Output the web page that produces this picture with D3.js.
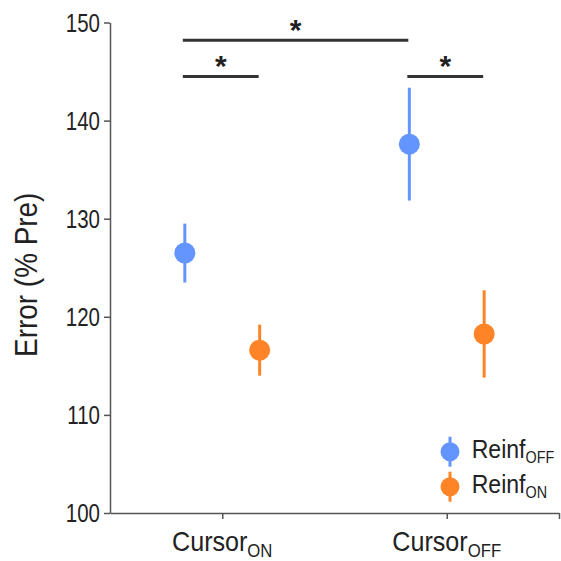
<!DOCTYPE html>
<html>
<head>
<meta charset="utf-8">
<script src="https://cdn.jsdelivr.net/npm/d3@7"></script>
<style>
  body { margin: 0; background: #fff; }
  svg text { font-family: "Liberation Sans", Arial, sans-serif; fill: #222; }
</style>
</head>
<body>
<svg id="chart" width="561" height="561"></svg>
<script>
// data
const cursorConds = ["ON", "OFF"];          // Cursor subscripts (x categories)
const reinfConds = ["OFF", "ON"];           // Reinf subscripts (series)
const reinfOffMean = [126.5, 137.6];
const reinfOffErr = [3.0, 5.75];
const reinfOnMean = [116.6, 118.25];
const reinfOnErr = [2.6, 4.45];
const yTicks = [100, 110, 120, 130, 140, 150];
const colors = ["#6495ff", "#ff8427"];
// significance bars: [category, series] at each end, y level in % Pre
const sigFrom = [[0, 0], [0, 0], [1, 0]];
const sigTo = [[0, 1], [1, 0], [1, 1]];
const sigLevel = [144.5, 148.2, 144.5];

const svg = d3.select("#chart");
const mLeft = 110, mRight = 559, mTop = 22.5, mBottom = 513;

const x = d3.scaleLinear().domain([0.5, 2.5]).range([mLeft, mRight]);
const y = d3.scaleLinear().domain([100, 150]).range([mBottom, mTop]);
const offset = [-1 / 6, 1 / 6];
const xPos = (c, s) => x(c + 1 + offset[s]);

const means = [reinfOffMean, reinfOnMean];
const errs = [reinfOffErr, reinfOnErr];

// axes
const yAxis = svg.append("g")
  .attr("transform", `translate(${mLeft},0)`)
  .call(d3.axisLeft(y).tickValues(yTicks).tickSize(6).tickSizeOuter(0));
const xAxis = svg.append("g")
  .attr("transform", `translate(0,${mBottom})`)
  .call(d3.axisBottom(x).tickValues([1, 2, 2.5]).tickSize(6).tickSizeOuter(0).tickFormat(""));

[yAxis, xAxis].forEach(g => {
  g.select(".domain").attr("stroke", "#555").attr("stroke-width", 1.5);
  g.selectAll(".tick line").attr("stroke", "#555").attr("stroke-width", 1.5);
});
yAxis.attr("font-family", null).attr("font-size", null);
// narrow-looking tick labels: squeeze horizontally
yAxis.selectAll(".tick text")
  .attr("font-size", 25.6).style("fill", "#222")
  .attr("x", 0).attr("dy", "0.35em")
  .attr("transform", "translate(-10,0) scale(0.8,1)");

// category labels with subscripts
cursorConds.forEach((c, i) => {
  const t = svg.append("text")
    .attr("transform", `translate(${x(i + 1)},551) scale(0.93,1)`)
    .attr("text-anchor", "middle")
    .attr("font-size", 27);
  t.append("tspan").text("Cursor");
  t.append("tspan").attr("font-size", 18).attr("dy", 5.5).text(c);
});

// y label
svg.append("text")
  .attr("transform", `translate(37,${(mTop + mBottom) / 2 + 7}) rotate(-90) scale(0.9,1)`)
  .attr("text-anchor", "middle")
  .attr("font-size", 31)
  .text("Error (% Pre)");

// error bars and markers
reinfConds.forEach((s, si) => {
  const g = svg.append("g");
  g.selectAll("line").data(means[si]).join("line")
    .attr("x1", (d, ci) => xPos(ci, si)).attr("x2", (d, ci) => xPos(ci, si))
    .attr("y1", (d, ci) => y(d - errs[si][ci])).attr("y2", (d, ci) => y(d + errs[si][ci]))
    .attr("stroke", colors[si]).attr("stroke-width", 3);
  g.selectAll("circle").data(means[si]).join("circle")
    .attr("cx", (d, ci) => xPos(ci, si)).attr("cy", d => y(d))
    .attr("r", 10.5).attr("fill", colors[si]);
});

// significance bars
sigLevel.forEach((lv, i) => {
  const x1 = xPos(sigFrom[i][0], sigFrom[i][1]) - 2;
  const x2 = xPos(sigTo[i][0], sigTo[i][1]) - 1;
  svg.append("line")
    .attr("x1", x1).attr("x2", x2).attr("y1", y(lv)).attr("y2", y(lv))
    .attr("stroke", "#333").attr("stroke-width", 3);
  svg.append("text")
    .attr("x", (x1 + x2) / 2).attr("y", y(lv))
    .attr("text-anchor", "middle")
    .attr("font-size", 30).attr("font-weight", "bold")
    .text("*");
});

// legend
const legend = svg.append("g").attr("transform", "translate(450,451.7)");
reinfConds.forEach((s, si) => {
  const g = legend.append("g").attr("transform", `translate(0,${si * 35})`);
  g.append("line").attr("y1", -15).attr("y2", 15)
    .attr("stroke", colors[si]).attr("stroke-width", 3);
  g.append("circle").attr("r", 9.5).attr("fill", colors[si]);
  const t = g.append("text")
    .attr("transform", "translate(21.7,6) scale(0.87,1)")
    .attr("font-size", 26.5);
  t.append("tspan").text("Reinf");
  t.append("tspan").attr("font-size", 16.5).attr("dy", 5).text(s);
});
</script>
</body>
</html>
